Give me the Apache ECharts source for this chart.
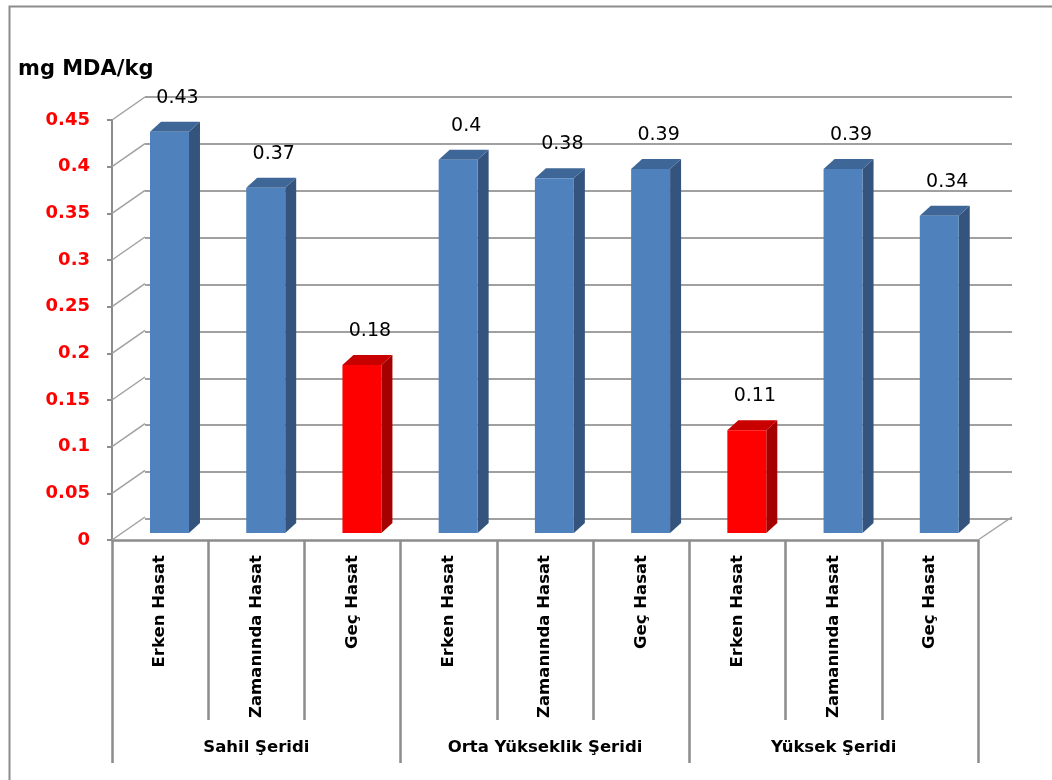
<!DOCTYPE html>
<html>
<head>
<meta charset="utf-8">
<title>mg MDA/kg</title>
<script src="https://cdn.jsdelivr.net/npm/echarts@6/dist/echarts.min.js"></script>
<style>
  * { margin: 0; padding: 0; }
  body { background: #fff; }
  #chart { width: 1052px; height: 780px; }
</style>
</head>
<body>
<div id="chart"></div>
<script>
// data
const categories = ["Erken Hasat", "Zamanında Hasat", "Geç Hasat",
  "Erken Hasat", "Zamanında Hasat", "Geç Hasat",
  "Erken Hasat", "Zamanında Hasat", "Geç Hasat"];
const groups = ["Sahil Şeridi", "Orta Yükseklik Şeridi", "Yüksek Şeridi"];
const values = [0.43, 0.37, 0.18, 0.4, 0.38, 0.39, 0.11, 0.39, 0.34];
const yTicks = [0, 0.05, 0.1, 0.15, 0.2, 0.25, 0.3, 0.35, 0.4, 0.45];
const yName = "mg MDA/kg";

// style bits
const redBars = [2, 6];
const DEPTH_X = 33, DEPTH_Y = -23; // back wall offset
const FONT = "DejaVu Sans";
const GRID_COLOR = "#a0a0a0";
const AXIS_COLOR = "#8c8c8c";

const chart = echarts.init(document.getElementById("chart"));

function renderBar(params, api) {
  const i = api.value(0);
  const v = api.value(1);
  const band = api.size([1, 0])[0];
  const base = api.coord([i, 0]);
  const top = api.coord([i, v]);
  const w = band * 0.405;
  const x0 = base[0] - band * 0.105;
  const yb = base[1] - 7;
  const yt = top[1] - 7;
  const dx = 11, dy = -10;
  const red = redBars.indexOf(i) >= 0;
  const cFront = red ? "#ff0000" : "#4f81bd";
  const cSide = red ? "#a50000" : "#34547e";
  const cTop = red ? "#c80000" : "#3e6797";
  return {
    type: "group",
    children: [
      { type: "polygon", shape: { points: [[x0 + w, yt], [x0 + w + dx, yt + dy], [x0 + w + dx, yb + dy], [x0 + w, yb]] }, style: { fill: cSide } },
      { type: "polygon", shape: { points: [[x0, yt], [x0 + dx, yt + dy], [x0 + w + dx, yt + dy], [x0 + w, yt]] }, style: { fill: cTop } },
      { type: "rect", shape: { x: x0, y: yt, width: w, height: yb - yt }, style: { fill: cFront } },
      {
        type: "text",
        x: x0 + w / 2 + 8,
        y: yt - 34,
        style: { text: String(v), fill: "#000", font: "19px " + FONT, align: "center", verticalAlign: "middle" }
      }
    ]
  };
}

// diagonal lines joining the front axis to the back wall
function renderFrame(params, api) {
  const cs = params.coordSys;
  const y = api.coord([0, api.value(0)])[1];
  const children = [
    { type: "line", shape: { x1: cs.x, y1: y, x2: cs.x + DEPTH_X, y2: y + DEPTH_Y }, style: { stroke: GRID_COLOR, lineWidth: 1.5 } }
  ];
  if (params.dataIndex === 0) {
    children.push({ type: "line", shape: { x1: cs.x + cs.width, y1: y, x2: cs.x + cs.width + DEPTH_X + 1, y2: y + DEPTH_Y }, style: { stroke: GRID_COLOR, lineWidth: 1.5 } });
  }
  return { type: "group", children: children };
}

const option = {
  backgroundColor: "#fff",
  animation: false,
  title: {
    text: yName,
    left: 13,
    top: 54,
    textStyle: { fontFamily: FONT, fontSize: 21, fontWeight: "bold", color: "#000" }
  },
  graphic: [
    { type: "rect", left: 7, top: 4, shape: { width: 1100, height: 775 }, style: { fill: "none", stroke: AXIS_COLOR, lineWidth: 2 }, z: -1 }
  ],
  grid: [
    { left: 112, top: 120, width: 866, height: 420 },
    { left: 112 + DEPTH_X, top: 120 + DEPTH_Y, width: 867, height: 422 }
  ],
  xAxis: [
    {
      gridIndex: 0,
      type: "category",
      data: categories,
      axisLine: { lineStyle: { color: AXIS_COLOR, width: 2.5 } },
      axisTick: { show: true, interval: 0, length: 180, lineStyle: { color: AXIS_COLOR, width: 2.5 } },
      axisLabel: { interval: 0, rotate: 90, margin: 15, color: "#000", fontFamily: FONT, fontSize: 16.5, fontWeight: "bold" }
    },
    {
      gridIndex: 0,
      type: "category",
      position: "bottom",
      data: groups,
      axisLine: { show: false },
      axisTick: { show: true, interval: 0, length: 223, lineStyle: { color: AXIS_COLOR, width: 2.5 } },
      axisLabel: { interval: 0, margin: 199, color: "#000", fontFamily: FONT, fontSize: 16.5, fontWeight: "bold" }
    },
    {
      gridIndex: 1,
      type: "category",
      data: categories,
      show: false
    }
  ],
  yAxis: [
    {
      gridIndex: 0,
      type: "value",
      min: 0,
      max: 0.45,
      interval: 0.05,
      axisLine: { show: true, lineStyle: { color: AXIS_COLOR, width: 2 } },
      axisTick: { show: true, length: 5, lineStyle: { color: AXIS_COLOR, width: 2 } },
      splitLine: { show: false },
      axisLabel: { margin: 22, color: "#ff0000", fontFamily: FONT, fontSize: 18, fontWeight: "bold" }
    },
    {
      gridIndex: 1,
      type: "value",
      min: 0,
      max: 0.45,
      interval: 0.05,
      axisLine: { show: false },
      axisTick: { show: false },
      axisLabel: { show: false },
      splitLine: { show: true, lineStyle: { color: GRID_COLOR, width: 2 } }
    }
  ],
  series: [
    {
      type: "custom",
      xAxisIndex: 0,
      yAxisIndex: 0,
      renderItem: renderFrame,
      data: yTicks.map((t) => [t]),
      encode: { y: 0 },
      silent: true,
      z: 1
    },
    {
      type: "custom",
      xAxisIndex: 0,
      yAxisIndex: 0,
      renderItem: renderBar,
      data: values.map((v, i) => [i, v]),
      encode: { x: 0, y: 1 },
      z: 3
    }
  ]
};

chart.setOption(option);
</script>
</body>
</html>
